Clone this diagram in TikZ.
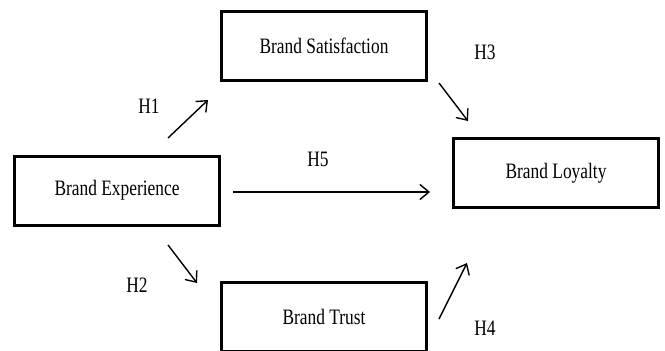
\documentclass[tikz,border=0pt]{standalone}
\usepackage{fontspec}
\setmainfont{Liberation Serif}[FakeStretch=0.79]
\usetikzlibrary{arrows.meta}
\begin{document}
\begin{tikzpicture}[x=1pt,y=-1pt,
  box/.style={draw,line width=3pt,minimum width=205pt,minimum height=69pt,inner sep=0pt,font=\fontsize{22}{26}\selectfont},
  hlab/.style={font=\fontsize{22}{26}\selectfont,inner sep=0pt},
  arr/.style={line width=1.4pt,-{Straight Barb[length=9pt,width=15pt,line width=1.4pt]}}]
\useasboundingbox (0,0) rectangle (665,351);
\clip (0,0) rectangle (665,351);
\node[box] (exp) at (117,190.5) {Brand Experience};
\node[box] (sat) at (324,46) {Brand Satisfaction};
\node[box] (tru) at (324,317) {Brand Trust};
\node[box] (loy) at (556,173) {Brand Loyalty};
\coordinate (a1s) at (168,138); \coordinate (a1e) at (208,100);
\coordinate (a2s) at (168,245); \coordinate (a2e) at (197,283);
\coordinate (a5s) at (233,192); \coordinate (a5e) at (430,192);
\coordinate (a3s) at (439,83); \coordinate (a3e) at (468,121);
\coordinate (a4s) at (439,319); \coordinate (a4e) at (467,263);
\draw[arr] (a1s) -- (a1e);
\draw[arr] (a2s) -- (a2e);
\draw[arr] (a5s) -- (a5e);
\draw[arr] (a3s) -- (a3e);
\draw[arr] (a4s) -- (a4e);
\node[hlab] (h1) at (149,106) {H1};
\node[hlab] (h2) at (137,285) {H2};
\node[hlab] (h5) at (318,159) {H5};
\node[hlab] (h3) at (485,52) {H3};
\node[hlab] (h4) at (485,328) {H4};
\end{tikzpicture}
\end{document}
